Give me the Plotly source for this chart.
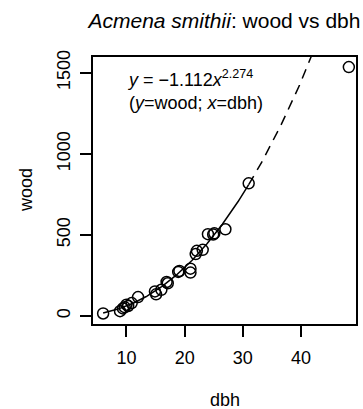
import numpy as np
import plotly.graph_objects as go

# data
dbh = [6.0, 8.9, 9.4, 9.7, 10.0, 10.3, 10.9, 12.0, 14.9, 15.1, 16.0, 16.9, 17.1,
       18.9, 19.1, 21.0, 21.0, 21.9, 22.1, 23.1, 24.0, 24.9, 25.1, 27.0, 31.0, 48.2]
wood = [16, 30, 47, 55, 70, 62, 80, 117, 152, 134, 162, 210, 202,
        272, 278, 292, 268, 382, 402, 408, 505, 503, 510, 535, 818, 1535]

# fitted model: log(y) = a + b*log(x)
coef_a = -1.112
coef_b = 2.274
fit_max_x = 31.0

title_text = "<i>Acmena smithii</i>: wood vs dbh"
eq_text = "<i>y</i> = \u22121.112<i>x</i><sup>2.274</sup><br>(<i>y</i>=wood; <i>x</i>=dbh)"
x_ticks = [10, 20, 30, 40]
y_ticks = [0, 500, 1000, 1500]

xr = [4.26, 49.43]
yr = [-49, 1597]

xs_solid = np.linspace(min(dbh), fit_max_x, 200)
xs_dash = np.linspace(fit_max_x, max(dbh), 200)
f = lambda x: np.exp(coef_a) * x ** coef_b

FONT = "Liberation Sans, Arial, Helvetica, sans-serif"

fig = go.Figure()
fig.add_trace(go.Scatter(x=xs_solid, y=f(xs_solid), mode="lines",
                         line=dict(color="black", width=1.5), showlegend=False))
fig.add_trace(go.Scatter(x=xs_dash, y=f(xs_dash), mode="lines",
                         line=dict(color="black", width=1.5, dash="10px,7px"), showlegend=False))
fig.add_trace(go.Scatter(x=dbh, y=wood, mode="markers",
                         marker=dict(symbol="circle-open", size=11, color="black",
                                     line=dict(width=1.5, color="black")),
                         showlegend=False))

axis_common = dict(showgrid=False, zeroline=False, showline=True, linecolor="black",
                   linewidth=1.5, mirror=True, ticks="outside", ticklen=11, tickwidth=1.5,
                   tickcolor="black", tickfont=dict(size=18, color="black", family=FONT))

fig.update_layout(
    width=363, height=409,
    margin=dict(l=93, r=5, t=57, b=85),
    paper_bgcolor="white", plot_bgcolor="white",
    font=dict(family=FONT, color="black", size=18),
    title=dict(text=title_text, x=0.5, xref="paper", y=1 - 21 / 409, yref="container",
               xanchor="center", yanchor="middle", font=dict(size=21, family=FONT)),
    xaxis=dict(range=xr, tickvals=x_ticks, ticktext=[str(t) for t in x_ticks],
               ticklabelstandoff=6, **axis_common),
    yaxis=dict(range=yr, tickvals=y_ticks, ticktext=[str(t) for t in y_ticks],
               tickangle=-90, ticklabelstandoff=3, **axis_common),
    annotations=[
        dict(text="dbh", x=0.5, y=(324 - 400) / 267, xref="paper", yref="paper",
             showarrow=False, xanchor="center", yanchor="middle", font=dict(size=18)),
        dict(text="wood", x=(25 - 93) / 265, y=0.5, xref="paper", yref="paper",
             showarrow=False, xanchor="center", yanchor="middle", textangle=-90,
             font=dict(size=18)),
        dict(text=eq_text, x=(125 - 93) / 265, y=(324 - 65) / 267, xref="paper", yref="paper",
             showarrow=False, xanchor="left", yanchor="top", align="left",
             font=dict(size=18)),
    ],
)

fig.write_html("out.html", config={"displayModeBar": False},
               post_script="document.body.style.margin='0';document.body.style.overflow='hidden';")
